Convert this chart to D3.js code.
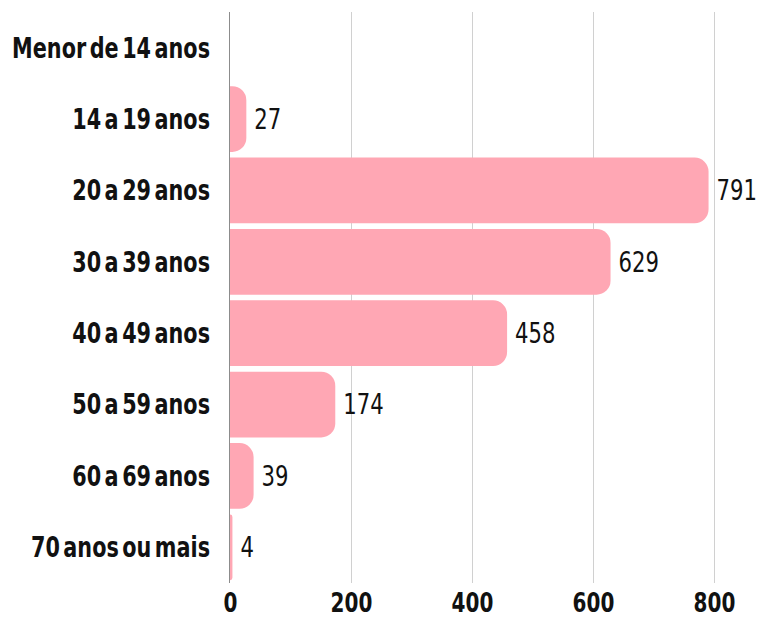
<!DOCTYPE html>
<html>
<head>
<meta charset="utf-8">
<script src="https://cdn.jsdelivr.net/npm/d3@7"></script>
<style>
  html, body { margin: 0; padding: 0; background: #fff; }
  #chart { width: 757px; height: 619px; }
</style>
</head>
<body>
<div id="chart"></div>
<script>
// faixas etárias e contagens
const CATEGORIES = ["Menor de 14 anos", "14 a 19 anos", "20 a 29 anos", "30 a 39 anos",
  "40 a 49 anos", "50 a 59 anos", "60 a 69 anos", "70 anos ou mais"];
const VALUES = [0, 27, 791, 629, 458, 174, 39, 4];
const TICKS = [0, 200, 400, 600, 800];

const W = 757, H = 619;
const m = { t: 12, r: 43, b: 34, l: 230 };
const iw = 484, ih = H - m.t - m.b;
const FONT = "'DejaVu Sans', sans-serif";

const rows = CATEGORIES.map((c, i) => ({ c, v: VALUES[i] }));

const svg = d3.select("#chart").append("svg").attr("width", W).attr("height", H);
const g = svg.append("g").attr("transform", `translate(${m.l},${m.t})`);

const x = d3.scaleLinear().domain([0, 800]).range([0, iw]);
const y = d3.scaleBand().domain(CATEGORIES).range([0, ih - 2]).paddingInner(0.08).paddingOuter(0.04);

// fator de condensação: fonte condensada não existe, então estreitamos o texto
const probe = svg.append("text").attr("font-family", FONT).attr("font-weight", "bold")
  .attr("font-size", 28).attr("word-spacing", -5).text(CATEGORIES[0]);
const K = 198 / probe.node().getComputedTextLength();
probe.remove();

// grade vertical
g.selectAll("line.grid").data(TICKS.slice(1)).join("line")
  .attr("class", "grid")
  .attr("x1", d => x(d) + 0.5).attr("x2", d => x(d) + 0.5)
  .attr("y1", 0).attr("y2", ih - 2)
  .attr("stroke", "#d0d0d0").attr("stroke-width", 1);
g.append("line").attr("x1", -0.5).attr("x2", -0.5).attr("y1", 0).attr("y2", ih - 2)
  .attr("stroke", "#8c8c8c").attr("stroke-width", 1);

// barras com cantos direitos arredondados
const R = 14;
function barPath(d) {
  const w = x(d.v), y0 = y(d.c), h = y.bandwidth();
  if (w <= 0) return "";
  const r = Math.min(R, w, h / 2);
  return `M0,${y0}H${w - r}A${r},${r} 0 0 1 ${w},${y0 + r}V${y0 + h - r}A${r},${r} 0 0 1 ${w - r},${y0 + h}H0Z`;
}
g.selectAll("path.bar").data(rows).join("path")
  .attr("class", "bar")
  .attr("d", barPath)
  .attr("fill", "#ffa7b4");

// valores
g.selectAll("text.val").data(rows.filter(d => d.v > 0)).join("text")
  .attr("class", "val")
  .attr("transform", d => `translate(${x(d.v) + 8},${y(d.c) + y.bandwidth() / 2}) scale(${K * 1.02},1)`)
  .attr("dy", "0.35em")
  .attr("font-family", FONT).attr("font-size", 28).attr("fill", "#111")
  .text(d => d.v);

// rótulos das categorias
g.selectAll("text.cat").data(rows).join("text")
  .attr("class", "cat")
  .attr("transform", d => `translate(-20,${y(d.c) + y.bandwidth() / 2}) scale(${K},1)`)
  .attr("dy", "0.35em")
  .attr("text-anchor", "end")
  .attr("font-family", FONT).attr("font-weight", "bold").attr("font-size", 28)
  .attr("word-spacing", -5)
  .attr("fill", "#111")
  .text(d => d.c);

// eixo x
const ax = g.append("g").attr("transform", `translate(0,${ih})`)
  .call(d3.axisBottom(x).tickValues(TICKS).tickSize(0).tickPadding(8));
ax.select(".domain").remove();
ax.selectAll("text").attr("font-family", FONT).attr("font-weight", "bold")
  .attr("font-size", 27).attr("fill", "#111")
  .attr("transform", `scale(${K},1)`);
</script>
</body>
</html>
